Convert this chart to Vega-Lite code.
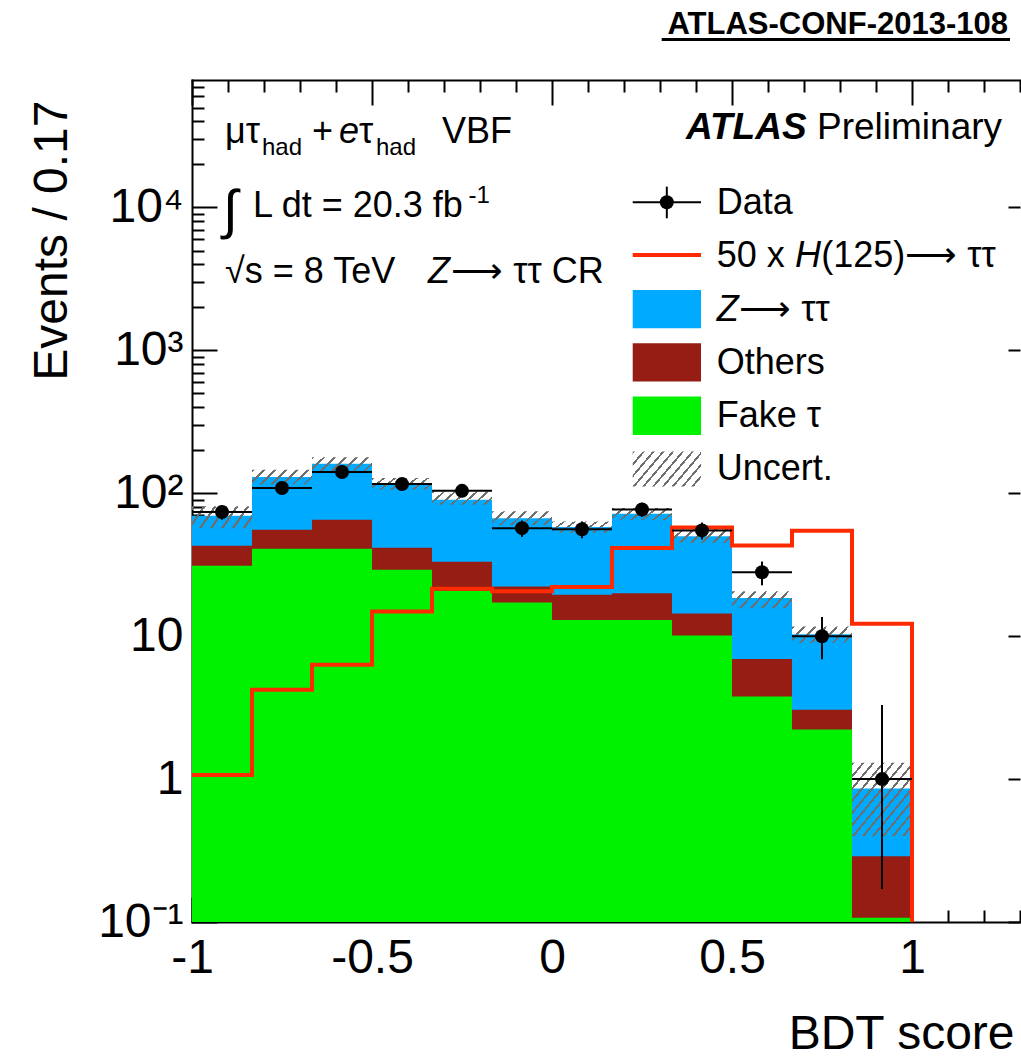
{
  "$schema": "https://vega.github.io/schema/vega-lite/v6.json",
  "width": 828,
  "height": 842,
  "autosize": {"type": "none"},
  "padding": {"left": 192, "top": 80, "right": 1, "bottom": 141},
  "background": "white",
  "config": {
    "font": "Liberation Sans",
    "view": {"stroke": null},
    "axis": {
      "labelFontSize": 48, "titleFontSize": 48, "labelColor": "#000", "titleColor": "#000",
      "titleFontWeight": "normal", "domainColor": "#000", "domainWidth": 2, "domainCap": "square",
      "tickColor": "#000", "tickWidth": 2, "grid": false, "zindex": 1,
      "labelOverlap": false, "labelFlush": false, "labelBound": false
    }
  },
  "datasets": {
    "components": [
      {"lo": -1, "hi": -0.833333, "process": "Fake τ", "events": 31.1},
      {"lo": -1, "hi": -0.833333, "process": "Others", "events": 11.8},
      {"lo": -1, "hi": -0.833333, "process": "Z→ττ", "events": 26.8},
      {"lo": -0.833333, "hi": -0.666667, "process": "Fake τ", "events": 40.9},
      {"lo": -0.833333, "hi": -0.666667, "process": "Others", "events": 14.7},
      {"lo": -0.833333, "hi": -0.666667, "process": "Z→ττ", "events": 74.4},
      {"lo": -0.666667, "hi": -0.5, "process": "Fake τ", "events": 40.9},
      {"lo": -0.666667, "hi": -0.5, "process": "Others", "events": 24.4},
      {"lo": -0.666667, "hi": -0.5, "process": "Z→ττ", "events": 95.7},
      {"lo": -0.5, "hi": -0.333333, "process": "Fake τ", "events": 29.2},
      {"lo": -0.5, "hi": -0.333333, "process": "Others", "events": 12.4},
      {"lo": -0.5, "hi": -0.333333, "process": "Z→ττ", "events": 76.4},
      {"lo": -0.333333, "hi": -0.166667, "process": "Fake τ", "events": 20.8},
      {"lo": -0.333333, "hi": -0.166667, "process": "Others", "events": 12.4},
      {"lo": -0.333333, "hi": -0.166667, "process": "Z→ττ", "events": 56.8},
      {"lo": -0.166667, "hi": 0, "process": "Fake τ", "events": 17.2},
      {"lo": -0.166667, "hi": 0, "process": "Others", "events": 5.1},
      {"lo": -0.166667, "hi": 0, "process": "Z→ττ", "events": 44.7},
      {"lo": 0, "hi": 0.166667, "process": "Fake τ", "events": 13.0},
      {"lo": 0, "hi": 0.166667, "process": "Others", "events": 6.5},
      {"lo": 0, "hi": 0.166667, "process": "Z→ττ", "events": 38.5},
      {"lo": 0.166667, "hi": 0.333333, "process": "Fake τ", "events": 13.0},
      {"lo": 0.166667, "hi": 0.333333, "process": "Others", "events": 7.0},
      {"lo": 0.166667, "hi": 0.333333, "process": "Z→ττ", "events": 52.0},
      {"lo": 0.333333, "hi": 0.5, "process": "Fake τ", "events": 10.1},
      {"lo": 0.333333, "hi": 0.5, "process": "Others", "events": 4.3},
      {"lo": 0.333333, "hi": 0.5, "process": "Z→ττ", "events": 35.6},
      {"lo": 0.5, "hi": 0.666667, "process": "Fake τ", "events": 3.79},
      {"lo": 0.5, "hi": 0.666667, "process": "Others", "events": 3.14},
      {"lo": 0.5, "hi": 0.666667, "process": "Z→ττ", "events": 11.57},
      {"lo": 0.666667, "hi": 0.833333, "process": "Fake τ", "events": 2.22},
      {"lo": 0.666667, "hi": 0.833333, "process": "Others", "events": 0.84},
      {"lo": 0.666667, "hi": 0.833333, "process": "Z→ττ", "events": 7.24},
      {"lo": 0.833333, "hi": 1, "process": "Fake τ", "events": 0.107},
      {"lo": 0.833333, "hi": 1, "process": "Others", "events": 0.181},
      {"lo": 0.833333, "hi": 1, "process": "Z→ττ", "events": 0.572}
    ],
    "bins": [
      {"lo": -1, "mid": -0.916667, "hi": -0.833333, "data": 74, "data_lo": 65.4, "data_hi": 82.6, "unc_lo": 57, "unc_hi": 81},
      {"lo": -0.833333, "mid": -0.75, "hi": -0.666667, "data": 109, "data_lo": 98.6, "data_hi": 119.4, "unc_lo": 115, "unc_hi": 146},
      {"lo": -0.666667, "mid": -0.583333, "hi": -0.5, "data": 141, "data_lo": 129.1, "data_hi": 152.9, "unc_lo": 142, "unc_hi": 179},
      {"lo": -0.5, "mid": -0.416667, "hi": -0.333333, "data": 116, "data_lo": 105.2, "data_hi": 126.8, "unc_lo": 106, "unc_hi": 128},
      {"lo": -0.333333, "mid": -0.25, "hi": -0.166667, "data": 104, "data_lo": 93.8, "data_hi": 114.2, "unc_lo": 83, "unc_hi": 103},
      {"lo": -0.166667, "mid": -0.083333, "hi": 0, "data": 57, "data_lo": 49.5, "data_hi": 64.5, "unc_lo": 60, "unc_hi": 75},
      {"lo": 0, "mid": 0.083333, "hi": 0.166667, "data": 56, "data_lo": 48.5, "data_hi": 63.5, "unc_lo": 53, "unc_hi": 63.5},
      {"lo": 0.166667, "mid": 0.25, "hi": 0.333333, "data": 77, "data_lo": 68.2, "data_hi": 85.8, "unc_lo": 65, "unc_hi": 79},
      {"lo": 0.333333, "mid": 0.416667, "hi": 0.5, "data": 55, "data_lo": 47.6, "data_hi": 62.4, "unc_lo": 45, "unc_hi": 57},
      {"lo": 0.5, "mid": 0.583333, "hi": 0.666667, "data": 28, "data_lo": 22.7, "data_hi": 33.3, "unc_lo": 15.7, "unc_hi": 20.6},
      {"lo": 0.666667, "mid": 0.75, "hi": 0.833333, "data": 10, "data_lo": 6.9, "data_hi": 13.6, "unc_lo": 9.0, "unc_hi": 11.7},
      {"lo": 0.833333, "mid": 0.916667, "hi": 1, "data": 1, "data_lo": 0.17, "data_hi": 3.3, "unc_lo": 0.40, "unc_hi": 1.30}
    ],
    "signal": [
      {"edge": -1, "events": 1.07},
      {"edge": -0.833333, "events": 4.22},
      {"edge": -0.666667, "events": 6.3},
      {"edge": -0.5, "events": 14.9},
      {"edge": -0.333333, "events": 21.5},
      {"edge": -0.166667, "events": 20.6},
      {"edge": 0, "events": 22.1},
      {"edge": 0.166667, "events": 41.4},
      {"edge": 0.333333, "events": 57.7},
      {"edge": 0.5, "events": 43.1},
      {"edge": 0.666667, "events": 54.7},
      {"edge": 0.833333, "events": 12.2},
      {"edge": 1, "events": 0.1}
    ]
  },
  "layer": [
    {
      "data": {"name": "components"},
      "transform": [
        {"stack": "events", "groupby": ["lo"], "sort": [{"field": "process", "order": "ascending"}], "as": ["ev_lo", "ev_hi"]}
      ],
      "mark": {"type": "rect", "strokeWidth": 0},
      "encoding": {
        "x": {
          "field": "lo", "type": "quantitative",
          "scale": {"domain": [-1, 1.3], "nice": false, "zero": false},
          "axis": {
            "orient": "bottom",
            "values": [-1, -0.9, -0.8, -0.7, -0.6, -0.5, -0.4, -0.3, -0.2, -0.1, 0, 0.1, 0.2, 0.3, 0.4, 0.5, 0.6, 0.7, 0.8, 0.9, 1, 1.1, 1.2, 1.3],
            "tickSize": {"expr": "indexof([-1, -0.5, 0, 0.5, 1], datum.value) >= 0 ? -25 : -12"},
            "labelExpr": "indexof([-1, -0.5, 0, 0.5, 1], datum.value) >= 0 ? toString(datum.value) : ''",
            "labelPadding": 37,
            "title": "BDT score",
            "titleX": 822, "titleY": 126, "titleAlign": "right", "titleBaseline": "alphabetic", "titleAnchor": "end"
          }
        },
        "x2": {"field": "hi"},
        "y": {
          "field": "ev_hi", "type": "quantitative",
          "scale": {"type": "log", "domain": [0.1, 78000], "nice": false},
          "axis": {
            "orient": "left",
            "values": [0.1, 0.2, 0.3, 0.4, 0.5, 0.6, 0.7, 0.8, 0.9, 1, 2, 3, 4, 5, 6, 7, 8, 9, 10, 20, 30, 40, 50, 60, 70, 80, 90, 100, 200, 300, 400, 500, 600, 700, 800, 900, 1000, 2000, 3000, 4000, 5000, 6000, 7000, 8000, 9000, 10000, 20000, 30000, 40000, 50000, 60000, 70000],
            "tickSize": {"expr": "indexof([0.1, 1, 10, 100, 1000, 10000], datum.value) >= 0 ? -25 : -12"},
            "labelExpr": "datum.value == 0.1 ? '10⁻¹' : datum.value == 1 ? '1' : datum.value == 10 ? '10' : datum.value == 100 ? '10²' : datum.value == 1000 ? '10³' : datum.value == 10000 ? '10⁴' : ''",
            "labelPadding": 34, "labelAlign": "right", "labelBaseline": "middle",
            "title": "Events / 0.17",
            "titleAngle": 270, "titleX": -126, "titleY": 20, "titleAlign": "right", "titleBaseline": "alphabetic", "titleAnchor": "end"
          }
        },
        "y2": {"datum": 0.1},
        "fill": {
          "field": "process", "type": "nominal",
          "scale": {"domain": ["Fake τ", "Others", "Z→ττ"], "range": ["#00f200", "#961d13", "#00abff"]},
          "legend": null
        },
        "order": {"field": "ev_hi", "sort": "descending"}
      }
    },
    {
      "data": {"name": "bins"},
      "mark": {"type": "rect", "strokeWidth": 0},
      "encoding": {
        "x": {
          "field": "lo", "type": "quantitative",
          "axis": {
            "orient": "top",
            "values": [-1, -0.9, -0.8, -0.7, -0.6, -0.5, -0.4, -0.3, -0.2, -0.1, 0, 0.1, 0.2, 0.3, 0.4, 0.5, 0.6, 0.7, 0.8, 0.9, 1, 1.1, 1.2, 1.3],
            "tickSize": {"expr": "indexof([-1, -0.5, 0, 0.5, 1], datum.value) >= 0 ? -25 : -12"},
            "labels": false, "title": null
          }
        },
        "x2": {"field": "hi"},
        "y": {
          "field": "unc_lo", "type": "quantitative",
          "axis": {"orient": "right", "values": [0.1, 1, 10, 100, 1000, 10000], "tickSize": -12, "labels": false, "domain": false, "title": null}
        },
        "y2": {"field": "unc_hi"},
        "fill": {
          "condition": {
            "test": "datum.unc_hi / datum.unc_lo > 2",
            "value": {
              "gradient": "linear", "x1": 0, "y1": 0, "x2": 1, "y2": 1,
              "stops": [
                {"offset": 0, "color": "#6e6e6e"}, {"offset": 0.021, "color": "#6e6e6e"}, {"offset": 0.021, "color": "rgba(255,255,255,0)"}, {"offset": 0.0833, "color": "rgba(255,255,255,0)"},
                {"offset": 0.0833, "color": "#6e6e6e"}, {"offset": 0.1043, "color": "#6e6e6e"}, {"offset": 0.1043, "color": "rgba(255,255,255,0)"}, {"offset": 0.1667, "color": "rgba(255,255,255,0)"},
                {"offset": 0.1667, "color": "#6e6e6e"}, {"offset": 0.1877, "color": "#6e6e6e"}, {"offset": 0.1877, "color": "rgba(255,255,255,0)"}, {"offset": 0.25, "color": "rgba(255,255,255,0)"},
                {"offset": 0.25, "color": "#6e6e6e"}, {"offset": 0.271, "color": "#6e6e6e"}, {"offset": 0.271, "color": "rgba(255,255,255,0)"}, {"offset": 0.3333, "color": "rgba(255,255,255,0)"},
                {"offset": 0.3333, "color": "#6e6e6e"}, {"offset": 0.3543, "color": "#6e6e6e"}, {"offset": 0.3543, "color": "rgba(255,255,255,0)"}, {"offset": 0.4167, "color": "rgba(255,255,255,0)"},
                {"offset": 0.4167, "color": "#6e6e6e"}, {"offset": 0.4377, "color": "#6e6e6e"}, {"offset": 0.4377, "color": "rgba(255,255,255,0)"}, {"offset": 0.5, "color": "rgba(255,255,255,0)"},
                {"offset": 0.5, "color": "#6e6e6e"}, {"offset": 0.521, "color": "#6e6e6e"}, {"offset": 0.521, "color": "rgba(255,255,255,0)"}, {"offset": 0.5833, "color": "rgba(255,255,255,0)"},
                {"offset": 0.5833, "color": "#6e6e6e"}, {"offset": 0.6043, "color": "#6e6e6e"}, {"offset": 0.6043, "color": "rgba(255,255,255,0)"}, {"offset": 0.6667, "color": "rgba(255,255,255,0)"},
                {"offset": 0.6667, "color": "#6e6e6e"}, {"offset": 0.6877, "color": "#6e6e6e"}, {"offset": 0.6877, "color": "rgba(255,255,255,0)"}, {"offset": 0.75, "color": "rgba(255,255,255,0)"},
                {"offset": 0.75, "color": "#6e6e6e"}, {"offset": 0.771, "color": "#6e6e6e"}, {"offset": 0.771, "color": "rgba(255,255,255,0)"}, {"offset": 0.8333, "color": "rgba(255,255,255,0)"},
                {"offset": 0.8333, "color": "#6e6e6e"}, {"offset": 0.8543, "color": "#6e6e6e"}, {"offset": 0.8543, "color": "rgba(255,255,255,0)"}, {"offset": 0.9167, "color": "rgba(255,255,255,0)"},
                {"offset": 0.9167, "color": "#6e6e6e"}, {"offset": 0.9377, "color": "#6e6e6e"}, {"offset": 0.9377, "color": "rgba(255,255,255,0)"}, {"offset": 1, "color": "rgba(255,255,255,0)"}
              ]
            }
          },
          "value": {
            "gradient": "linear", "x1": 0, "y1": 0, "x2": 1.2, "y2": 0.3,
            "stops": [
              {"offset": 0, "color": "#6e6e6e"}, {"offset": 0.035, "color": "#6e6e6e"}, {"offset": 0.035, "color": "rgba(255,255,255,0)"}, {"offset": 0.1429, "color": "rgba(255,255,255,0)"},
              {"offset": 0.1429, "color": "#6e6e6e"}, {"offset": 0.1779, "color": "#6e6e6e"}, {"offset": 0.1779, "color": "rgba(255,255,255,0)"}, {"offset": 0.2857, "color": "rgba(255,255,255,0)"},
              {"offset": 0.2857, "color": "#6e6e6e"}, {"offset": 0.3207, "color": "#6e6e6e"}, {"offset": 0.3207, "color": "rgba(255,255,255,0)"}, {"offset": 0.4286, "color": "rgba(255,255,255,0)"},
              {"offset": 0.4286, "color": "#6e6e6e"}, {"offset": 0.4636, "color": "#6e6e6e"}, {"offset": 0.4636, "color": "rgba(255,255,255,0)"}, {"offset": 0.5714, "color": "rgba(255,255,255,0)"},
              {"offset": 0.5714, "color": "#6e6e6e"}, {"offset": 0.6064, "color": "#6e6e6e"}, {"offset": 0.6064, "color": "rgba(255,255,255,0)"}, {"offset": 0.7143, "color": "rgba(255,255,255,0)"},
              {"offset": 0.7143, "color": "#6e6e6e"}, {"offset": 0.7493, "color": "#6e6e6e"}, {"offset": 0.7493, "color": "rgba(255,255,255,0)"}, {"offset": 0.8571, "color": "rgba(255,255,255,0)"},
              {"offset": 0.8571, "color": "#6e6e6e"}, {"offset": 0.8921, "color": "#6e6e6e"}, {"offset": 0.8921, "color": "rgba(255,255,255,0)"}, {"offset": 1, "color": "rgba(255,255,255,0)"}
            ]
          }
        }
      }
    },
    {
      "data": {"name": "signal"},
      "mark": {"type": "line", "interpolate": "step-after", "stroke": "#ff2a00", "strokeWidth": 4},
      "encoding": {
        "x": {"field": "edge", "type": "quantitative", "axis": null},
        "y": {"field": "events", "type": "quantitative", "axis": null}
      }
    },
    {
      "data": {"name": "bins"},
      "mark": {"type": "rule", "color": "#000", "strokeWidth": 2},
      "encoding": {
        "x": {"field": "lo", "type": "quantitative", "axis": null},
        "x2": {"field": "hi"},
        "y": {"field": "data", "type": "quantitative", "axis": null}
      }
    },
    {
      "data": {"name": "bins"},
      "mark": {"type": "rule", "color": "#000", "strokeWidth": 2},
      "encoding": {
        "x": {"field": "mid", "type": "quantitative", "axis": null},
        "y": {"field": "data_lo", "type": "quantitative", "axis": null},
        "y2": {"field": "data_hi"}
      }
    },
    {
      "data": {"name": "bins"},
      "mark": {"type": "circle", "color": "#000", "opacity": 1, "size": 195},
      "encoding": {
        "x": {"field": "mid", "type": "quantitative", "axis": null},
        "y": {"field": "data", "type": "quantitative", "axis": null}
      }
    },
    {
      "data": {"values": [{}]},
      "mark": {"type": "rule", "color": "#000", "strokeWidth": 2},
      "encoding": {"x": {"datum": 0.2242, "axis": null}, "x2": {"datum": 0.4139}, "y": {"datum": 10870, "axis": null}}
    },
    {
      "data": {"values": [{}]},
      "mark": {"type": "rule", "color": "#000", "strokeWidth": 2},
      "encoding": {"x": {"datum": 0.3189, "axis": null}, "y": {"datum": 13980, "axis": null}, "y2": {"datum": 8405}}
    },
    {
      "data": {"values": [{}]},
      "mark": {"type": "circle", "color": "#000", "opacity": 1, "size": 195},
      "encoding": {"x": {"datum": 0.3189, "axis": null}, "y": {"datum": 10870, "axis": null}}
    },
    {
      "data": {"values": [{}]},
      "mark": {"type": "rule", "color": "#ff2a00", "strokeWidth": 4},
      "encoding": {"x": {"datum": 0.2242, "axis": null}, "x2": {"datum": 0.4139}, "y": {"datum": 4656, "axis": null}}
    },
    {
      "data": {"values": [{}]},
      "mark": {"type": "rect", "color": "#00abff"},
      "encoding": {"x": {"datum": 0.2242, "axis": null}, "x2": {"datum": 0.4139}, "y": {"datum": 2649, "axis": null}, "y2": {"datum": 1430}}
    },
    {
      "data": {"values": [{}]},
      "mark": {"type": "rect", "color": "#961d13"},
      "encoding": {"x": {"datum": 0.2242, "axis": null}, "x2": {"datum": 0.4139}, "y": {"datum": 1123, "axis": null}, "y2": {"datum": 605}}
    },
    {
      "data": {"values": [{}]},
      "mark": {"type": "rect", "color": "#00f200"},
      "encoding": {"x": {"datum": 0.2242, "axis": null}, "x2": {"datum": 0.4139}, "y": {"datum": 475, "axis": null}, "y2": {"datum": 256}}
    },
    {
      "data": {"values": [{}]},
      "mark": {
        "type": "rect",
        "fill": {
          "gradient": "linear", "x1": 0, "y1": 0, "x2": 1.207, "y2": 0.523,
          "stops": [
            {"offset": 0, "color": "#6e6e6e"}, {"offset": 0.025, "color": "#6e6e6e"}, {"offset": 0.025, "color": "rgba(255,255,255,0)"}, {"offset": 0.1, "color": "rgba(255,255,255,0)"},
            {"offset": 0.1, "color": "#6e6e6e"}, {"offset": 0.125, "color": "#6e6e6e"}, {"offset": 0.125, "color": "rgba(255,255,255,0)"}, {"offset": 0.2, "color": "rgba(255,255,255,0)"},
            {"offset": 0.2, "color": "#6e6e6e"}, {"offset": 0.225, "color": "#6e6e6e"}, {"offset": 0.225, "color": "rgba(255,255,255,0)"}, {"offset": 0.3, "color": "rgba(255,255,255,0)"},
            {"offset": 0.3, "color": "#6e6e6e"}, {"offset": 0.325, "color": "#6e6e6e"}, {"offset": 0.325, "color": "rgba(255,255,255,0)"}, {"offset": 0.4, "color": "rgba(255,255,255,0)"},
            {"offset": 0.4, "color": "#6e6e6e"}, {"offset": 0.425, "color": "#6e6e6e"}, {"offset": 0.425, "color": "rgba(255,255,255,0)"}, {"offset": 0.5, "color": "rgba(255,255,255,0)"},
            {"offset": 0.5, "color": "#6e6e6e"}, {"offset": 0.525, "color": "#6e6e6e"}, {"offset": 0.525, "color": "rgba(255,255,255,0)"}, {"offset": 0.6, "color": "rgba(255,255,255,0)"},
            {"offset": 0.6, "color": "#6e6e6e"}, {"offset": 0.625, "color": "#6e6e6e"}, {"offset": 0.625, "color": "rgba(255,255,255,0)"}, {"offset": 0.7, "color": "rgba(255,255,255,0)"},
            {"offset": 0.7, "color": "#6e6e6e"}, {"offset": 0.725, "color": "#6e6e6e"}, {"offset": 0.725, "color": "rgba(255,255,255,0)"}, {"offset": 0.8, "color": "rgba(255,255,255,0)"},
            {"offset": 0.8, "color": "#6e6e6e"}, {"offset": 0.825, "color": "#6e6e6e"}, {"offset": 0.825, "color": "rgba(255,255,255,0)"}, {"offset": 0.9, "color": "rgba(255,255,255,0)"},
            {"offset": 0.9, "color": "#6e6e6e"}, {"offset": 0.925, "color": "#6e6e6e"}, {"offset": 0.925, "color": "rgba(255,255,255,0)"}, {"offset": 1, "color": "rgba(255,255,255,0)"}
          ]
        }
      },
      "encoding": {"x": {"datum": 0.2242, "axis": null}, "x2": {"datum": 0.4139}, "y": {"datum": 196, "axis": null}, "y2": {"datum": 111.6}}
    },
    {
      "data": {"values": [{}]},
      "mark": {"type": "text", "text": "Data", "fontSize": 36, "align": "left", "baseline": "middle", "color": "#000"},
      "encoding": {"x": {"datum": 0.4575, "axis": null}, "y": {"datum": 10750, "axis": null}}
    },
    {
      "data": {"values": [{}]},
      "mark": {"type": "text", "text": "50 x ", "fontSize": 36, "align": "left", "baseline": "middle", "color": "#000"},
      "encoding": {"x": {"datum": 0.4575, "axis": null}, "y": {"datum": 4580, "axis": null}}
    },
    {
      "data": {"values": [{}]},
      "mark": {"type": "text", "text": "H", "fontSize": 36, "fontStyle": "italic", "align": "left", "baseline": "middle", "color": "#000"},
      "encoding": {"x": {"datum": 0.675, "axis": null}, "y": {"datum": 4580, "axis": null}}
    },
    {
      "data": {"values": [{}]},
      "mark": {"type": "text", "text": "(125)⟶ ττ", "fontSize": 36, "align": "left", "baseline": "middle", "color": "#000"},
      "encoding": {"x": {"datum": 0.748, "axis": null}, "y": {"datum": 4580, "axis": null}}
    },
    {
      "data": {"values": [{}]},
      "mark": {"type": "text", "text": "Z", "fontSize": 36, "fontStyle": "italic", "align": "left", "baseline": "middle", "color": "#000"},
      "encoding": {"x": {"datum": 0.4575, "axis": null}, "y": {"datum": 1920, "axis": null}}
    },
    {
      "data": {"values": [{}]},
      "mark": {"type": "text", "text": "⟶ ττ", "fontSize": 36, "align": "left", "baseline": "middle", "color": "#000"},
      "encoding": {"x": {"datum": 0.52, "axis": null}, "y": {"datum": 1920, "axis": null}}
    },
    {
      "data": {"values": [{}]},
      "mark": {"type": "text", "text": "Others", "fontSize": 36, "align": "left", "baseline": "middle", "color": "#000"},
      "encoding": {"x": {"datum": 0.4575, "axis": null}, "y": {"datum": 818, "axis": null}}
    },
    {
      "data": {"values": [{}]},
      "mark": {"type": "text", "text": "Fake τ", "fontSize": 36, "align": "left", "baseline": "middle", "color": "#000"},
      "encoding": {"x": {"datum": 0.4575, "axis": null}, "y": {"datum": 348, "axis": null}}
    },
    {
      "data": {"values": [{}]},
      "mark": {"type": "text", "text": "Uncert.", "fontSize": 36, "align": "left", "baseline": "middle", "color": "#000"},
      "encoding": {"x": {"datum": 0.4575, "axis": null}, "y": {"datum": 148, "axis": null}}
    },
    {
      "data": {"values": [{}]},
      "mark": {"type": "text", "text": "ATLAS", "fontSize": 37, "fontWeight": "bold", "fontStyle": "italic", "align": "left", "baseline": "alphabetic", "color": "#000"},
      "encoding": {"x": {"datum": 0.3722, "axis": null}, "y": {"datum": 30130, "axis": null}}
    },
    {
      "data": {"values": [{}]},
      "mark": {"type": "text", "text": "Preliminary", "fontSize": 37, "align": "left", "baseline": "alphabetic", "color": "#000"},
      "encoding": {"x": {"datum": 0.7361, "axis": null}, "y": {"datum": 30130, "axis": null}}
    },
    {
      "data": {"values": [{}]},
      "mark": {"type": "text", "text": "ATLAS-CONF-2013-108", "fontSize": 31, "fontWeight": "bold", "align": "right", "baseline": "alphabetic", "color": "#000"},
      "encoding": {"x": {"datum": 1.2667, "axis": null}, "y": {"datum": 162600, "axis": null}}
    },
    {
      "data": {"values": [{}]},
      "mark": {"type": "rule", "color": "#000", "strokeWidth": 3},
      "encoding": {"x": {"datum": 0.3047, "axis": null}, "x2": {"datum": 1.2722}, "y": {"datum": 149600, "axis": null}}
    },
    {
      "data": {"values": [{}]},
      "mark": {"type": "text", "text": "μτ", "fontSize": 36, "align": "left", "baseline": "alphabetic", "color": "#000"},
      "encoding": {"x": {"datum": -0.9083, "axis": null}, "y": {"datum": 28100, "axis": null}}
    },
    {
      "data": {"values": [{}]},
      "mark": {"type": "text", "text": "had", "fontSize": 24, "align": "left", "baseline": "alphabetic", "color": "#000"},
      "encoding": {"x": {"datum": -0.8056, "axis": null}, "y": {"datum": 23300, "axis": null}}
    },
    {
      "data": {"values": [{}]},
      "mark": {"type": "text", "text": "+", "fontSize": 36, "align": "left", "baseline": "alphabetic", "color": "#000"},
      "encoding": {"x": {"datum": -0.6667, "axis": null}, "y": {"datum": 28100, "axis": null}}
    },
    {
      "data": {"values": [{}]},
      "mark": {"type": "text", "text": "e", "fontSize": 36, "fontStyle": "italic", "align": "left", "baseline": "alphabetic", "color": "#000"},
      "encoding": {"x": {"datum": -0.5917, "axis": null}, "y": {"datum": 28100, "axis": null}}
    },
    {
      "data": {"values": [{}]},
      "mark": {"type": "text", "text": "τ", "fontSize": 36, "align": "left", "baseline": "alphabetic", "color": "#000"},
      "encoding": {"x": {"datum": -0.5361, "axis": null}, "y": {"datum": 28100, "axis": null}}
    },
    {
      "data": {"values": [{}]},
      "mark": {"type": "text", "text": "had", "fontSize": 24, "align": "left", "baseline": "alphabetic", "color": "#000"},
      "encoding": {"x": {"datum": -0.4889, "axis": null}, "y": {"datum": 23300, "axis": null}}
    },
    {
      "data": {"values": [{}]},
      "mark": {"type": "text", "text": "VBF", "fontSize": 36, "align": "left", "baseline": "alphabetic", "color": "#000"},
      "encoding": {"x": {"datum": -0.3056, "axis": null}, "y": {"datum": 28100, "axis": null}}
    },
    {
      "data": {"values": [{}]},
      "mark": {"type": "text", "text": "∫", "fontSize": 54, "align": "left", "baseline": "alphabetic", "color": "#000"},
      "encoding": {"x": {"datum": -0.9139, "axis": null}, "y": {"datum": 7190, "axis": null}}
    },
    {
      "data": {"values": [{}]},
      "mark": {"type": "text", "text": "L dt = 20.3 fb", "fontSize": 36, "align": "left", "baseline": "alphabetic", "color": "#000"},
      "encoding": {"x": {"datum": -0.8306, "axis": null}, "y": {"datum": 8630, "axis": null}}
    },
    {
      "data": {"values": [{}]},
      "mark": {"type": "text", "text": "-1", "fontSize": 24, "align": "left", "baseline": "alphabetic", "color": "#000"},
      "encoding": {"x": {"datum": -0.232, "axis": null}, "y": {"datum": 10750, "axis": null}}
    },
    {
      "data": {"values": [{}]},
      "mark": {"type": "text", "text": "√s = 8 TeV", "fontSize": 36, "align": "left", "baseline": "alphabetic", "color": "#000"},
      "encoding": {"x": {"datum": -0.9083, "axis": null}, "y": {"datum": 2951, "axis": null}}
    },
    {
      "data": {"values": [{}]},
      "mark": {"type": "text", "text": "Z", "fontSize": 36, "fontStyle": "italic", "align": "left", "baseline": "alphabetic", "color": "#000"},
      "encoding": {"x": {"datum": -0.3444, "axis": null}, "y": {"datum": 2951, "axis": null}}
    },
    {
      "data": {"values": [{}]},
      "mark": {"type": "text", "text": "⟶ ττ CR", "fontSize": 36, "align": "left", "baseline": "alphabetic", "color": "#000"},
      "encoding": {"x": {"datum": -0.28, "axis": null}, "y": {"datum": 2951, "axis": null}}
    }
  ],
  "resolve": {"axis": {"x": "independent", "y": "independent"}}
}
